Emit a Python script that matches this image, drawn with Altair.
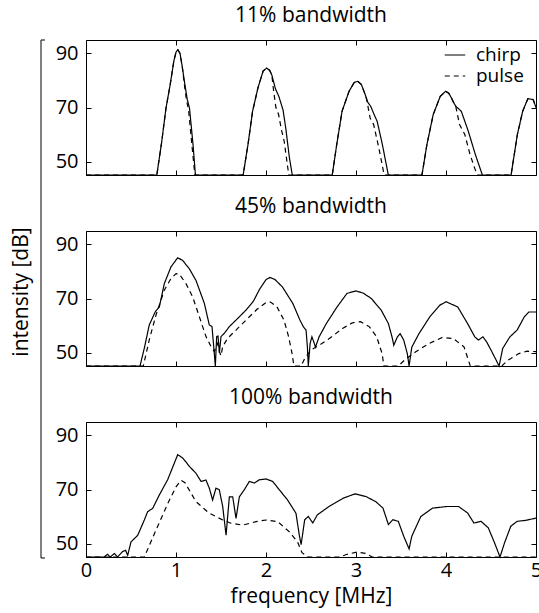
import altair as alt
import pandas as pd

FONT = "Open Sans"

titles = ["11% bandwidth", "45% bandwidth", "100% bandwidth"]
x_ticks = [0, 1, 2, 3, 4, 5]
y_ticks = [50, 70, 90]
series_names = ["chirp", "pulse"]

# (frequency MHz, intensity dB)
p1_chirp = [(0, 45), (0.787, 45), (0.84, 57), (0.889, 69.8), (0.935, 78.4), (0.975, 87), (1.0, 90.5), (1.021, 91.4),
            (1.045, 90), (1.07, 85), (1.099, 78.4), (1.125, 73), (1.15, 69.8), (1.189, 56.3), (1.216, 45),
            (1.746, 45), (1.8, 56.3), (1.851, 68.6), (1.91, 77.2), (1.968, 83.5), (2.007, 84.6), (2.04, 83.8),
            (2.065, 82), (2.104, 77), (2.143, 74.1), (2.19, 69), (2.221, 62), (2.26, 51.4), (2.292, 45),
            (2.736, 45), (2.786, 56.3), (2.845, 68.6), (2.923, 76), (2.98, 79.3), (3.02, 79.7), (3.06, 78.5),
            (3.1, 75), (3.13, 72), (3.164, 70.4), (3.2, 67.5), (3.235, 64.9), (3.293, 56.3), (3.359, 45),
            (3.733, 45), (3.788, 56.3), (3.858, 67.4), (3.936, 74.1), (3.995, 76), (4.03, 75.3), (4.061, 73.5),
            (4.09, 71.5), (4.111, 70.4), (4.17, 68.6), (4.248, 61.2), (4.326, 52.6), (4.404, 45),
            (4.723, 45), (4.793, 60), (4.852, 68.6), (4.91, 73.3), (4.969, 72.9), (5.0, 70)]
p1_pulse = [(0, 45), (0.787, 45), (0.84, 57), (0.889, 69.8), (0.935, 78.4), (0.975, 87), (1.0, 90.5), (1.021, 91.4),
            (1.045, 90), (1.07, 85), (1.095, 78), (1.115, 73), (1.14, 69), (1.18, 55), (1.21, 45),
            (1.746, 45), (1.8, 56.3), (1.851, 68.6), (1.91, 77.2), (1.968, 83.5), (2.007, 84.6), (2.04, 83.8),
            (2.065, 82), (2.085, 76), (2.11, 70), (2.14, 67.4), (2.17, 62), (2.202, 57.5), (2.253, 45),
            (2.736, 45), (2.786, 56.3), (2.845, 68.6), (2.923, 76), (2.98, 79.3), (3.02, 79.7), (3.06, 78.5),
            (3.1, 75), (3.118, 73), (3.157, 66.1), (3.196, 63.7), (3.254, 55), (3.313, 45),
            (3.733, 45), (3.788, 56.3), (3.858, 67.4), (3.936, 74.1), (3.995, 76), (4.03, 75.3), (4.061, 73.5),
            (4.09, 71.5), (4.111, 70), (4.15, 63.7), (4.209, 60), (4.267, 52.6), (4.345, 45),
            (4.723, 45), (4.793, 60), (4.852, 68.6), (4.91, 73.3), (4.969, 72.9), (5.0, 70)]

p2_chirp = [(0, 45), (0.6, 45), (0.648, 51.6), (0.703, 60.2), (0.77, 65.1), (0.815, 66.9), (0.87, 75.5),
            (0.944, 81.7), (1.019, 85.1), (1.074, 84.1), (1.148, 81), (1.222, 76.7), (1.315, 68.2), (1.37, 60.2),
            (1.4, 59.6), (1.419, 52.2), (1.437, 45), (1.452, 55.9), (1.467, 56.1), (1.482, 49.8), (1.5, 55.9),
            (1.537, 57.1), (1.593, 59.6), (1.667, 62), (1.778, 65.7), (1.86, 69), (1.93, 73.5), (2.0, 77),
            (2.046, 77.8), (2.1, 77), (2.182, 74.3), (2.299, 68.1), (2.377, 62), (2.416, 59.5), (2.445, 58.3),
            (2.46, 52), (2.47, 45), (2.49, 53.3), (2.51, 55.8), (2.53, 54), (2.55, 52), (2.59, 55.8),
            (2.67, 60.7), (2.79, 66.9), (2.9, 71.9), (3.0, 72.8), (3.08, 72), (3.17, 70), (3.28, 65.7),
            (3.36, 60.7), (3.4, 55.8), (3.42, 52.7), (3.46, 55.8), (3.49, 57), (3.53, 54.6), (3.57, 49.6),
            (3.59, 45), (3.62, 52), (3.7, 57), (3.82, 63.2), (3.93, 67.5), (4.0, 68.8), (4.13, 66.9),
            (4.24, 60.7), (4.32, 55.8), (4.36, 54.6), (4.41, 55.8), (4.45, 54), (4.5, 50.9), (4.56, 47),
            (4.59, 45), (4.63, 51.5), (4.71, 55.8), (4.79, 58.3), (4.87, 63.2), (4.92, 65), (5.0, 65)]
p2_pulse = [(0, 45), (0.637, 45), (0.703, 54.7), (0.778, 63.9), (0.87, 73.1), (0.944, 77.4), (1.0, 79.2),
            (1.037, 79), (1.111, 75.5), (1.185, 70.6), (1.259, 63.3), (1.333, 55.9), (1.389, 52.2),
            (1.426, 50.4), (1.463, 53.4), (1.482, 50.4), (1.5, 48.8), (1.519, 52.2), (1.574, 55.3),
            (1.667, 58.3), (1.778, 62), (1.9, 66), (2.0, 68.5), (2.05, 68.7), (2.12, 67), (2.2, 62),
            (2.25, 56), (2.29, 49.6), (2.31, 45), (2.39, 45), (2.43, 47.8), (2.5, 50.9), (2.62, 53.3),
            (2.73, 55.8), (2.85, 58.9), (2.96, 61), (3.05, 61.4), (3.15, 59.5), (3.23, 55.8), (3.29, 49.6),
            (3.31, 45), (3.47, 45), (3.54, 47.2), (3.66, 50.2), (3.81, 53.3), (3.96, 55.6), (4.08, 55.2),
            (4.2, 52.1), (4.27, 45), (4.62, 45), (4.69, 47.2), (4.81, 49.6), (4.9, 50.5), (5.0, 50.3)]

p3_chirp = [(0, 45), (0.2, 45), (0.24, 46), (0.27, 45), (0.315, 46.3), (0.35, 45), (0.407, 47), (0.44, 47.5),
            (0.463, 45.6), (0.5, 50.6), (0.574, 53), (0.648, 58.7), (0.685, 61.8), (0.741, 63), (0.815, 68),
            (0.907, 73.6), (1.019, 82.9), (1.074, 81.7), (1.148, 78.6), (1.222, 76), (1.278, 73), (1.333, 73.5),
            (1.37, 70.5), (1.407, 66.1), (1.444, 70.5), (1.481, 69.9), (1.519, 63.7), (1.556, 53.1),
            (1.593, 67.3), (1.63, 67.3), (1.667, 59.3), (1.704, 67.3), (1.759, 69.9), (1.815, 73), (1.87, 72.4),
            (1.926, 73.6), (2.0, 73.9), (2.074, 73), (2.148, 69.9), (2.24, 66.1), (2.333, 61.2), (2.37, 53.1),
            (2.39, 49.6), (2.43, 58.8), (2.47, 60), (2.52, 57.6), (2.57, 60.6), (2.7, 63.7), (2.86, 66.8),
            (2.99, 68.4), (3.11, 67.4), (3.22, 65.5), (3.3, 63.1), (3.36, 57), (3.41, 58.8), (3.47, 58.2),
            (3.53, 52.7), (3.59, 48), (3.62, 52.7), (3.72, 60), (3.85, 63.1), (4.01, 63.7), (4.14, 63.7),
            (4.24, 61.3), (4.31, 57.6), (4.39, 58.2), (4.47, 55.8), (4.54, 50.2), (4.6, 45), (4.65, 50.2),
            (4.72, 56.4), (4.79, 58.2), (4.89, 58.6), (5.0, 59.4)]
p3_pulse = [(0, 45), (0.648, 45), (0.778, 55), (0.907, 64.7), (1.0, 71), (1.056, 73.4), (1.1, 72.5),
            (1.222, 65.5), (1.37, 61.2), (1.52, 58.7), (1.611, 57.5), (1.74, 56.8), (1.889, 58.1), (2.0, 58.7),
            (2.13, 58.1), (2.26, 54.3), (2.35, 50.6), (2.4, 46.6), (2.47, 45), (2.82, 45), (2.9, 46),
            (3.01, 46.8), (3.11, 46.3), (3.18, 45), (5.0, 45)]

W, H = 450, 135
XDOM, YDOM = [0, 5], [45, 95]
TICK = 5
FRAME = alt.ViewBackground(stroke="black", strokeWidth=1)


def frame(chirp, pulse):
    a = pd.DataFrame(chirp, columns=["f", "dB"]).assign(series="chirp", order=range(len(chirp)))
    b = pd.DataFrame(pulse, columns=["f", "dB"]).assign(series="pulse", order=range(len(pulse)))
    return pd.concat([a, b], ignore_index=True)


def panel(chirp, pulse, title, last, legend):
    df = frame(chirp, pulse)
    xs = alt.Scale(domain=XDOM, nice=False, zero=False)
    ys = alt.Scale(domain=YDOM, nice=False, zero=False)
    xaxis_kw = dict(orient="bottom", values=x_ticks, tickSize=TICK, offset=-TICK, domain=False, grid=False,
                    tickColor="black", labelColor="black", labelFont=FONT, labelFontSize=20,
                    labelPadding=3, labelFlush=False, titleFont=FONT, titleFontSize=21,
                    titleFontWeight="normal", titleColor="black", titlePadding=5, labels=last)
    if last:
        xaxis_kw["title"] = "frequency [MHz]"
        xaxis_kw["format"] = "d"
    else:
        xaxis_kw["title"] = None
    if legend:
        leg = alt.Legend(orient="none", legendX=358, legendY=4, title=None, labelFont=FONT, labelFontSize=19,
                         labelColor="black", symbolType="stroke", symbolSize=420, symbolStrokeWidth=1.2,
                         symbolStrokeColor="black", labelOffset=10, rowPadding=0, padding=0)
    else:
        leg = None
    lines = alt.Chart(df).mark_line(color="black", strokeWidth=1.2).encode(
        x=alt.X("f:Q", scale=xs, axis=alt.Axis(**xaxis_kw)),
        y=alt.Y("dB:Q", scale=ys, axis=alt.Axis(orient="left", values=y_ticks, tickSize=TICK, offset=-TICK,
                                                domain=False, grid=False, tickColor="black", labelColor="black",
                                                labelFont=FONT, labelFontSize=20, labelPadding=8, title=None)),
        strokeDash=alt.StrokeDash("series:N", scale=alt.Scale(domain=series_names, range=[[1, 0], [5, 4]]),
                                  legend=leg),
        order="order:Q",
    )
    mirror = alt.Chart(pd.DataFrame({"f": XDOM, "dB": YDOM})).mark_point(opacity=0).encode(
        x=alt.X("f:Q", scale=xs, axis=alt.Axis(orient="top", values=x_ticks, tickSize=TICK, offset=-TICK,
                                               domain=False, grid=False, labels=False, tickColor="black",
                                               title=None)),
        y=alt.Y("dB:Q", scale=ys, axis=alt.Axis(orient="right", values=y_ticks, tickSize=TICK, offset=-TICK,
                                                domain=False, grid=False, labels=False, tickColor="black",
                                                title=None)),
    )
    return alt.layer(lines, mirror).resolve_scale(x="independent", y="independent").properties(
        width=W, height=H, view=FRAME,
        title=alt.TitleParams(title, font=FONT, fontSize=21, fontWeight="normal", color="black", offset=11),
    )


panels = alt.vconcat(
    panel(p1_chirp, p1_pulse, titles[0], False, True),
    panel(p2_chirp, p2_pulse, titles[1], False, False),
    panel(p3_chirp, p3_pulse, titles[2], True, False),
    spacing=16,
).resolve_scale(strokeDash="independent")

BT, BB = 0, 518
bdf = pd.DataFrame({"k": [0]})
base = alt.Chart(bdf)
vline = base.mark_rule(color="black", strokeWidth=1).encode(x=alt.value(0), y=alt.value(BT), y2=alt.value(BB))
ttop = base.mark_rule(color="black", strokeWidth=1).encode(x=alt.value(0), x2=alt.value(4), y=alt.value(BT))
tbot = base.mark_rule(color="black", strokeWidth=1).encode(x=alt.value(0), x2=alt.value(4), y=alt.value(BB))
ylab = base.mark_text(text="intensity [dB]", angle=270, font=FONT, fontSize=21, align="center",
                      baseline="middle", color="black").encode(x=alt.value(-19), y=alt.value(252))
bracket = alt.layer(vline, ttop, tbot, ylab).properties(
    width=5, height=BB + 1, view=alt.ViewBackground(strokeOpacity=0))

PAD_L, PAD_T = 41, 40
chart = alt.hconcat(bracket, panels, spacing=8).properties(
    autosize=alt.AutoSizeParams(type="none"),
    padding={"left": PAD_L, "top": PAD_T, "right": 539 - PAD_L, "bottom": 613 - PAD_T},
).configure(font=FONT).configure_view(stroke="black", strokeWidth=1)

chart.save("out.html", embed_options={"renderer": "svg", "actions": False})
